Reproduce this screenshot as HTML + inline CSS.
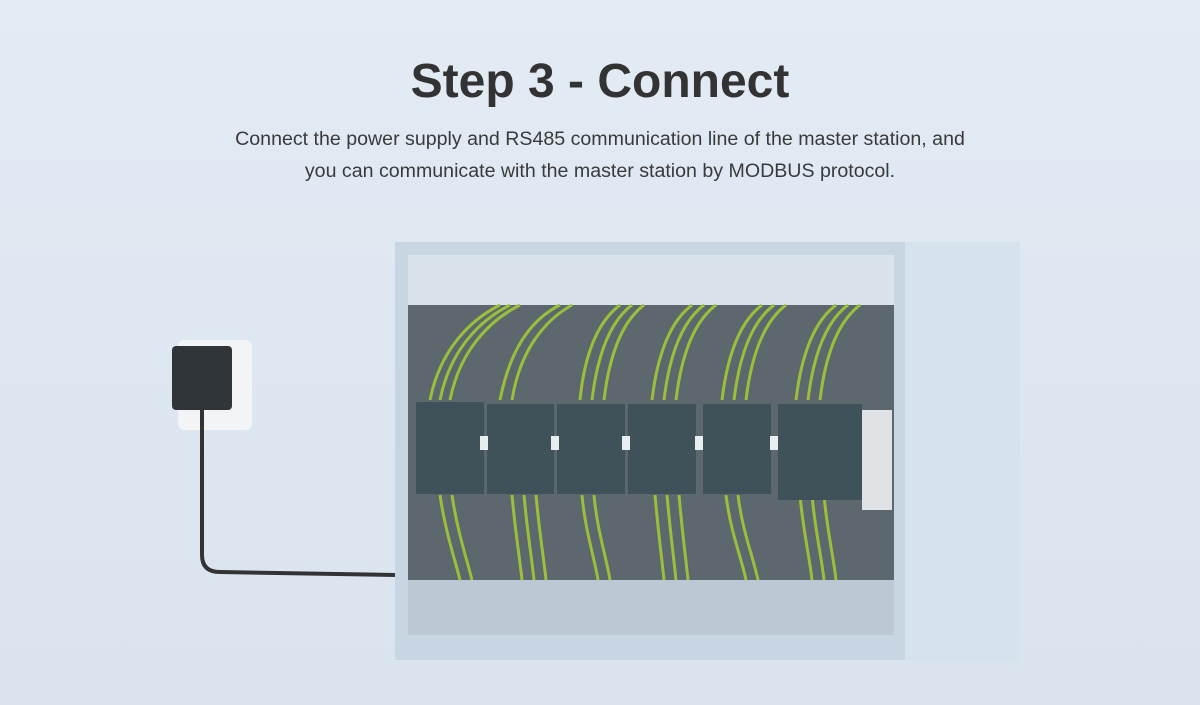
<!DOCTYPE html>
<html><head><meta charset="utf-8"><style>
body{margin:0;width:1200px;height:705px;overflow:hidden;background:linear-gradient(#e3ebf4,#d9e4ef);font-family:"Liberation Sans",sans-serif;position:relative}
h1{position:absolute;top:54px;left:0;width:1200px;text-align:center;margin:0;font-size:48px;font-weight:bold;color:#333}
.sub{position:absolute;top:123px;left:0;width:1200px;text-align:center;font-size:19.6px;line-height:32px;color:#3a3a3a}
.a{position:absolute}
</style></head><body>
<h1>Step 3 - Connect</h1>
<div class="sub">Connect the power supply and RS485 communication line of the master station, and<br>you can communicate with the master station by MODBUS protocol.</div>
<svg class="a" style="left:0;top:0" width="1200" height="705">
<polygon points="895,242 1020,242 1020,660 895,660" fill="#d6e2ed"/>
<polygon points="395,242 905,242 905,660 395,660" fill="#c8d6e3"/>
<rect x="408" y="255" width="486" height="380" fill="#a9b8c6"/>
<rect x="408" y="255" width="486" height="50" fill="#dbe3ea"/>
<rect x="408" y="580" width="486" height="55" fill="#bcc9d5"/>
<rect x="408" y="305" width="486" height="275" fill="#5c686d"/>
<g stroke="#9bbf3a" stroke-width="3" fill="none">
<path d="M430,400 C440,350 470,320 500,305" /><path d="M440,400 C450,350 480,320 510,305"/><path d="M450,400 C460,350 490,320 520,305"/>
<path d="M500,400 C510,350 530,320 560,305"/><path d="M512,400 C520,350 545,320 572,305"/>
<path d="M580,400 C585,350 600,320 620,305"/><path d="M592,400 C598,350 612,320 632,305"/><path d="M604,400 C610,350 624,320 644,305"/>
<path d="M652,400 C658,350 672,320 692,305"/><path d="M664,400 C670,350 684,320 704,305"/><path d="M676,400 C682,350 696,320 716,305"/>
<path d="M722,400 C728,350 742,320 762,305"/><path d="M734,400 C740,350 754,320 774,305"/><path d="M746,400 C752,350 766,320 786,305"/>
<path d="M796,400 C802,350 816,320 836,305"/><path d="M808,400 C814,350 828,320 848,305"/><path d="M820,400 C826,350 840,320 860,305"/>
<path d="M440,495 C445,530 455,560 460,580"/><path d="M452,495 C457,530 467,560 472,580"/>
<path d="M512,495 C515,530 520,560 522,580"/><path d="M524,495 C527,530 532,560 534,580"/><path d="M536,495 C539,530 544,560 546,580"/>
<path d="M582,495 C585,530 595,560 598,580"/><path d="M594,495 C597,530 607,560 610,580"/>
<path d="M655,495 C658,530 662,560 664,580"/><path d="M667,495 C670,530 674,560 676,580"/><path d="M679,495 C682,530 686,560 688,580"/>
<path d="M726,495 C730,530 742,560 746,580"/><path d="M738,495 C742,530 754,560 758,580"/>
<path d="M800,495 C803,530 810,560 812,580"/><path d="M812,495 C815,530 822,560 824,580"/><path d="M824,495 C827,530 834,560 836,580"/>
</g>
<g fill="#3f5259">
<rect x="416" y="402" width="68" height="92"/><rect x="487" y="404" width="67" height="90"/><rect x="557" y="404" width="68" height="90"/>
<rect x="628" y="404" width="68" height="90"/><rect x="703" y="404" width="68" height="90"/><rect x="778" y="404" width="84" height="96"/>
</g>
<g fill="#e8eef0"><rect x="480" y="436" width="8" height="14"/><rect x="551" y="436" width="8" height="14"/><rect x="622" y="436" width="8" height="14"/><rect x="695" y="436" width="8" height="14"/><rect x="770" y="436" width="8" height="14"/></g>
<rect x="862" y="410" width="30" height="100" fill="#dfe3e6"/>
<rect x="178" y="340" width="74" height="90" rx="6" fill="#f2f4f6"/>
<rect x="172" y="346" width="60" height="64" rx="4" fill="#2f3538"/>
<path d="M202,410 L202,555 Q202,572 220,572 L395,575" stroke="#333" stroke-width="4" fill="none"/>
</svg>
</body></html>
